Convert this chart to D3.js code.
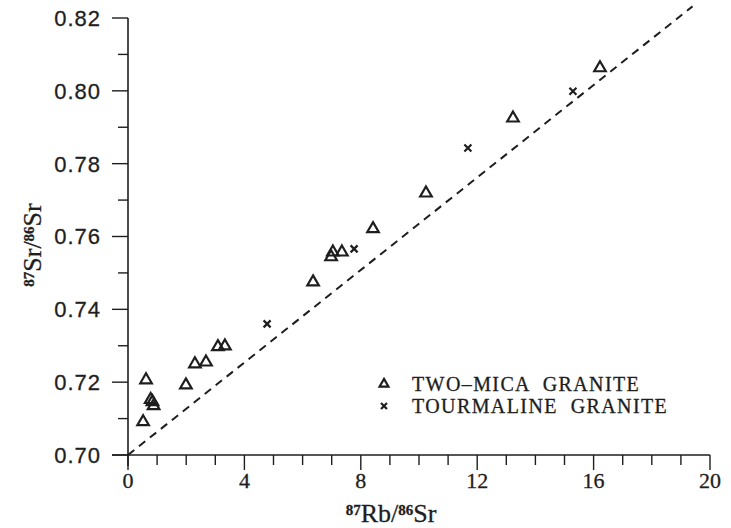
<!DOCTYPE html>
<html>
<head>
<meta charset="utf-8">
<script src="https://cdn.jsdelivr.net/npm/d3@7"></script>
<style>
  html, body { margin: 0; padding: 0; background: #fff; }
  svg { display: block; }
</style>
</head>
<body>
<svg id="chart" width="731" height="528"></svg>
<script>
// 87Rb/86Sr vs 87Sr/86Sr for the two granite suites
const micaRb = [0.52, 0.62, 0.78, 0.84, 0.88, 1.99, 2.30, 2.68, 3.09, 3.33, 6.36, 6.98, 7.04, 7.35, 8.42, 10.24, 13.23, 16.22];
const micaSr = [0.7091, 0.7206, 0.7152, 0.7146, 0.7135, 0.7192, 0.7250, 0.7255, 0.7297, 0.7299, 0.7475, 0.7544, 0.7557, 0.7557, 0.7621, 0.7719, 0.7925, 0.8063];
const tourRb = [4.78, 7.77, 11.68, 15.29];
const tourSr = [0.7360, 0.7566, 0.7843, 0.7999];

// reference line
const refRb = [0, 19.4];
const refSr = [0.700, 0.8232];

const xTicks = [0, 4, 8, 12, 16, 20];
const xMinor = d3.range(0, 21, 1);
const yTicks = [0.70, 0.72, 0.74, 0.76, 0.78, 0.80, 0.82];
const yMinor = d3.range(0, 13).map(i => 0.70 + i * 0.01);

const legendNames = ["TWO\u2013MICA  GRANITE", "TOURMALINE  GRANITE"];

const ink = "#1e1e1e";
const svg = d3.select("#chart");

const x = d3.scaleLinear().domain([0, 20]).range([128, 710]);
const y = d3.scaleLinear().domain([0.70, 0.82]).range([455, 18]);

// x axis: long ticks at labelled values, short ones every unit
const gx = svg.append("g").attr("transform", `translate(0,${y(0.70)})`);
gx.append("line").attr("x1", 112).attr("x2", x(20)).attr("stroke", ink).attr("stroke-width", 1.6);
gx.selectAll("line.minor").data(xMinor).join("line")
  .attr("x1", d => x(d)).attr("x2", d => x(d))
  .attr("y1", 0).attr("y2", d => xTicks.includes(d) ? 15 : 10)
  .attr("stroke", ink).attr("stroke-width", 1.4);
gx.selectAll("text").data(xTicks).join("text")
  .attr("x", d => x(d)).attr("y", 33)
  .attr("text-anchor", "middle")
  .attr("font-family", "Liberation Serif, serif").attr("font-size", 22)
  .attr("fill", ink).attr("stroke", ink).attr("stroke-width", 0.3)
  .text(d => d);

// y axis
const gy = svg.append("g").attr("transform", `translate(${x(0)},0)`);
gy.append("line").attr("y1", y(0.82)).attr("y2", 466).attr("stroke", ink).attr("stroke-width", 1.6);
gy.selectAll("line.t").data(yMinor).join("line")
  .attr("y1", d => y(d)).attr("y2", d => y(d))
  .attr("x1", (d, i) => i % 2 === 0 ? -16 : -10).attr("x2", 0)
  .attr("stroke", ink).attr("stroke-width", 1.4);
gy.selectAll("text").data(yTicks).join("text")
  .attr("x", -27).attr("y", d => y(d)).attr("dy", "0.36em")
  .attr("text-anchor", "end")
  .attr("font-family", "Liberation Sans, Arial, sans-serif").attr("font-size", 22)
  .attr("letter-spacing", 1)
  .attr("fill", ink).attr("stroke", ink).attr("stroke-width", 0.3)
  .text(d => d.toFixed(2));

// axis titles with isotope superscripts
function isotopeLabel(sel, parts) {
  parts.forEach(p => {
    sel.append("tspan")
      .attr("font-size", p.sup ? 15 : 26)
      .attr("font-weight", p.sup ? "bold" : null)
      .attr("baseline-shift", p.sup ? "50%" : null)
      .text(p.t);
  });
}
const xt = svg.append("text")
  .attr("x", 391).attr("y", 522).attr("text-anchor", "middle")
  .attr("font-family", "Liberation Serif, serif").attr("fill", ink)
  .attr("stroke", ink).attr("stroke-width", 0.3);
isotopeLabel(xt, [{t: "87", sup: true}, {t: "Rb/"}, {t: "86", sup: true}, {t: "Sr"}]);

const yt = svg.append("text")
  .attr("transform", "translate(41,245) rotate(-90)").attr("text-anchor", "middle")
  .attr("font-family", "Liberation Serif, serif").attr("fill", ink)
  .attr("stroke", ink).attr("stroke-width", 0.3);
isotopeLabel(yt, [{t: "87", sup: true}, {t: "Sr/"}, {t: "86", sup: true}, {t: "Sr"}]);

// dashed reference line
const line = d3.line().x(d => x(d[0])).y(d => y(d[1]));
svg.append("path")
  .datum(d3.zip(refRb, refSr))
  .attr("d", line)
  .attr("fill", "none").attr("stroke", ink).attr("stroke-width", 2)
  .attr("stroke-dasharray", "8,6");

// markers
function drawTriangle(g, cx, cy, s) {
  g.append("path").attr("d", d3.symbol().type(d3.symbolTriangle).size(s)())
    .attr("transform", `translate(${cx},${cy})`)
    .attr("fill", "none").attr("stroke", ink).attr("stroke-width", 2.2);
}
function drawCross(g, cx, cy, r) {
  g.append("path")
    .attr("d", `M${cx - r},${cy - r}L${cx + r},${cy + r}M${cx - r},${cy + r}L${cx + r},${cy - r}`)
    .attr("stroke", ink).attr("stroke-width", 2.2).attr("fill", "none");
}
const gm = svg.append("g");
d3.zip(micaRb, micaSr).forEach(([a, b]) => drawTriangle(gm, x(a), y(b), 58));
d3.zip(tourRb, tourSr).forEach(([a, b]) => drawCross(gm, x(a), y(b), 3.5));

// legend
const lg = svg.append("g");
drawTriangle(lg, 384, 384, 34);
drawCross(lg, 384, 406, 3);
lg.selectAll("text").data(legendNames).join("text")
  .attr("x", 412).attr("y", (d, i) => 391 + i * 22)
  .attr("font-family", "Liberation Serif, serif").attr("font-size", 20)
  .attr("letter-spacing", 1.4)
  .attr("fill", ink).attr("stroke", ink).attr("stroke-width", 0.3)
  .style("white-space", "pre")
  .text(d => d);
</script>
</body>
</html>
